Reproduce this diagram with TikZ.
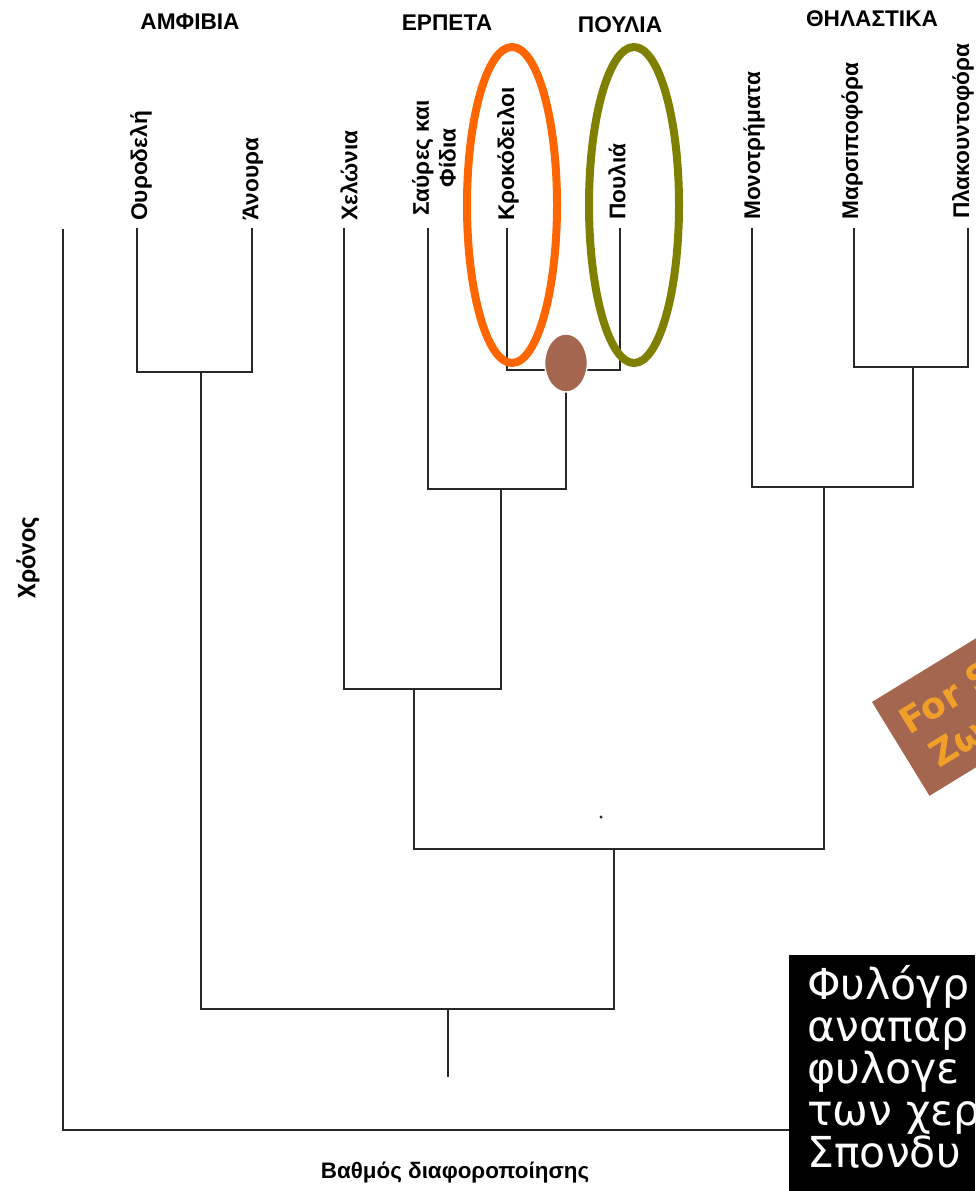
\documentclass[tikz,border=0pt]{standalone}
\usepackage{fontspec}
\setmainfont{Liberation Sans}
\newfontfamily\notefont{DejaVu Sans}
\newfontfamily\axisfont{Carlito}
\usetikzlibrary{shapes.geometric}
\definecolor{crocorange}{RGB}{255,102,0}
\definecolor{birdolive}{RGB}{128,128,0}
\definecolor{dotbrown}{RGB}{165,102,80}
\definecolor{wmtext}{RGB}{240,160,40}
\definecolor{inkline}{RGB}{40,40,40}
\begin{document}
\begin{tikzpicture}[x=0.75pt,y=-0.75pt,
  branch/.style={draw=inkline,line width=1.1pt},
  leaf/.style={rotate=90,anchor=west,inner sep=0pt,font=\bfseries\fontsize{17}{20}\selectfont,align=center},
  group/.style={inner sep=0pt,font=\bfseries\fontsize{17}{20}\selectfont},
  ring/.style={ellipse,draw,line width=6pt,minimum width=67.5pt,minimum height=237pt,inner sep=0pt},
  noteline/.style={anchor=base west,inner sep=0pt,text=white,font=\notefont\fontsize{32}{36}\selectfont},
  wmline/.style={anchor=base west,inner sep=0pt,text=wmtext,font=\notefont\bfseries\fontsize{27}{30}\selectfont}
]
\useasboundingbox (0,0) rectangle (975,1191);
\fill[white] (0,0) rectangle (975,1191);

% group labels
\node[group] (gAmph) at (190,22) {ΑΜΦΙΒΙΑ};
\node[group] (gRept) at (447,23) {ΕΡΠΕΤΑ};
\node[group] (gBird) at (620,25) {ΠΟΥΛΙΑ};
\node[group] (gMamm) at (872,19) {ΘΗΛΑΣΤΙΚΑ};

% leaf labels
\node[leaf] (lOur) at (141,221) {Ουροδελή};
\node[leaf] (lAn) at (253,221) {Άνουρα};
\node[leaf] (lChel) at (349,221) {Χελώνια};
\node[leaf] (lSaur) at (434,216) {Σαύρες και\\Φίδια};
\node[leaf] (lCroc) at (508,221) {Κροκόδειλοι};
\node[leaf] (lBird) at (617,220) {Πουλιά};
\node[leaf] (lMon) at (754,220) {Μονοτρήματα};
\node[leaf] (lMar) at (852,220) {Μαρσιποφόρα};
\node[leaf] (lPla) at (963,219) {Πλακουντοφόρα};

% leaf tips
\coordinate (tOut) at (63,229);
\coordinate (tOur) at (137,228);
\coordinate (tAn) at (252,228);
\coordinate (tChel) at (344,228);
\coordinate (tSaur) at (428,228);
\coordinate (tCroc) at (507,228);
\coordinate (tBird) at (620,228);
\coordinate (tMon) at (752,228);
\coordinate (tMar) at (854,228);
\coordinate (tPla) at (968,228);

% internal nodes
\coordinate (nA) at (201,372);
\coordinate (nCB) at (566,370);
\coordinate (nAR) at (501,489);
\coordinate (nR) at (414,689);
\coordinate (nMM) at (913,367);
\coordinate (nM) at (824,487);
\coordinate (nAM) at (614,849);
\coordinate (nT) at (448,1009);
\coordinate (tEnd) at (448,1077);
\coordinate (rEnd) at (975,1130);

% branches
\draw[branch] (tOur) |- (nA);
\draw[branch] (tAn) |- (nA);
\draw[branch] (nA) |- (nT);
\draw[branch] (nAM) |- (nT);
\draw[branch] (nT) -- (tEnd);
\draw[branch] (tChel) |- (nR);
\draw[branch] (nAR) |- (nR);
\draw[branch] (nR) |- (nAM);
\draw[branch] (nM) |- (nAM);
\draw[branch] (tSaur) |- (nAR);
\draw[branch] (nCB) |- (nAR);
\draw[branch] (tCroc) |- (nCB);
\draw[branch] (tBird) |- (nCB);
\draw[branch] (tMon) |- (nM);
\draw[branch] (nMM) |- (nM);
\draw[branch] (tMar) |- (nMM);
\draw[branch] (tPla) |- (nMM);
\draw[branch] (tOut) |- (rEnd);

% speck
\fill[inkline] (601,817) circle[radius=1.3pt];

% highlight rings and dot
\node[ring,draw=crocorange] (ringCroc) at (512,205) {};
\node[ring,draw=birdolive] (ringBird) at (634,205) {};
\node[ellipse,fill=dotbrown,draw=white,line width=1pt,minimum width=32pt,minimum height=43.5pt,inner sep=0pt] (dotCB) at (566,363) {};

% axis labels
\node[rotate=90,inner sep=0pt,font=\axisfont\bfseries\fontsize{20}{24}\selectfont] (axTime) at (28,558) {Χρόνος};
\node[inner sep=0pt,font=\bfseries\fontsize{16.8}{20}\selectfont] (axDiff) at (455,1173) {Βαθμός διαφοροποίησης};

% watermark
\begin{scope}[shift={(872,702)},rotate=31.5,transform shape]
  \fill[dotbrown] (0,0) rectangle (300,110);
  \node[wmline] (wm1) at (14,48) {For S};
  \node[wmline] (wm2) at (22,92) {Ζω};
\end{scope}

% note box
\fill[black] (789,955) rectangle (975,1191);
\node[noteline] (note1) at (807,999) {Φυλόγρ};
\node[noteline] (note2) at (807,1041) {αναπαρ};
\node[noteline] (note3) at (807,1083) {φυλογε};
\node[noteline] (note4) at (807,1125) {των χερ};
\node[noteline] (note5) at (807,1167) {Σπονδυ};
\end{tikzpicture}
\end{document}
